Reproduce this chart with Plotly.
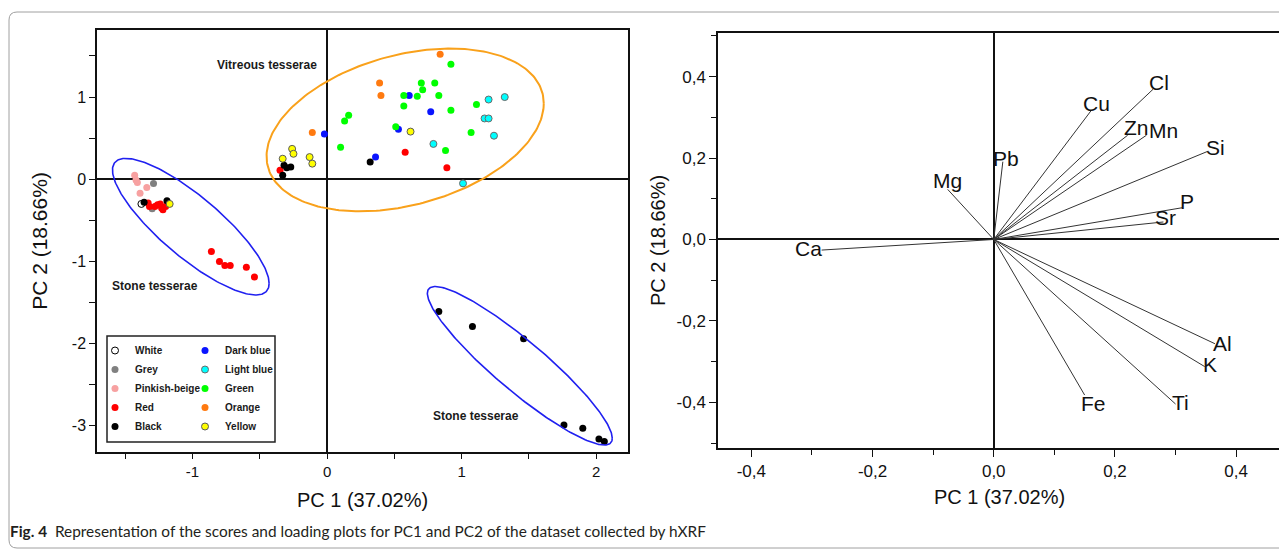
import numpy as np
import plotly.graph_objects as go

# page offset of the plot div (default body margin) and the visible area
OFF = 8
W, H = 1287 - OFF, 550 - OFF

# ---------------- Scores plot data (PC1, PC2) ----------------
white_pc1 = [-1.38]
white_pc2 = [-0.30]
grey_pc1 = [-1.29, -1.30]
grey_pc2 = [-0.05, -0.36]
pink_pc1 = [-1.43, -1.42, -1.41, -1.34, -1.39]
pink_pc2 = [0.05, -0.01, -0.04, -0.10, -0.17]
red_pc1 = [-1.33, -1.32, -1.28, -1.26, -1.24, -1.22, -1.20, -1.23,
           -0.86, -0.80, -0.76, -0.72, -0.60, -0.54,
           -0.35, 0.58, 0.89]
red_pc2 = [-0.29, -0.33, -0.33, -0.31, -0.30, -0.37, -0.33, -0.35,
           -0.88, -1.00, -1.05, -1.05, -1.07, -1.19,
           0.11, 0.33, 0.14]
black_pc1 = [-1.36, -1.19, -0.32, -0.27, -0.30, -0.33, 0.32,
             0.83, 1.08, 1.46, 1.76, 1.90, 2.02, 2.06]
black_pc2 = [-0.28, -0.26, 0.17, 0.15, 0.14, 0.05, 0.21,
             -1.61, -1.79, -1.94, -2.99, -3.03, -3.16, -3.19]
darkblue_pc1 = [0.61, 0.77, 0.53, -0.02, 0.36]
darkblue_pc2 = [1.02, 0.82, 0.61, 0.55, 0.27]
lightblue_pc1 = [1.20, 1.32, 1.17, 1.20, 1.24, 0.79, 1.01]
lightblue_pc2 = [0.97, 1.00, 0.74, 0.74, 0.53, 0.43, -0.05]
green_pc1 = [0.92, 0.70, 0.80, 0.71, 0.57, 0.67, 0.83, 0.57, 0.92, 1.11,
             1.07, 0.16, 0.13, 0.51, 0.10, 0.88]
green_pc2 = [1.40, 1.17, 1.17, 1.09, 1.02, 1.01, 1.02, 0.89, 0.84, 0.91,
             0.57, 0.78, 0.71, 0.64, 0.39, 0.35]
orange_pc1 = [0.84, 0.39, 0.40, -0.11]
orange_pc2 = [1.52, 1.17, 1.02, 0.57]
yellow_pc1 = [-0.26, -0.25, -0.13, -0.11, -0.33, 0.62, -1.17]
yellow_pc2 = [0.37, 0.31, 0.27, 0.19, 0.25, 0.58, -0.30]

score_names = ["White", "Grey", "Pinkish-beige", "Red", "Black",
               "Dark blue", "Light blue", "Green", "Orange", "Yellow"]
score_x = [white_pc1, grey_pc1, pink_pc1, red_pc1, black_pc1,
           darkblue_pc1, lightblue_pc1, green_pc1, orange_pc1, yellow_pc1]
score_y = [white_pc2, grey_pc2, pink_pc2, red_pc2, black_pc2,
           darkblue_pc2, lightblue_pc2, green_pc2, orange_pc2, yellow_pc2]

# group ellipses: centre, half-extent along PC1 / PC2, phase (deg)
ell_cx = [0.58, -1.013, 1.432]
ell_cy = [0.60, -0.577, -2.269]
ell_rx = [1.03, 0.582, 0.687]
ell_ry = [0.99, 0.831, 0.964]
ell_phase = [71, 146, 156]

group_labels = ["Vitreous tesserae", "Stone tesserae", "Stone tesserae"]
group_label_x = [-0.45, -1.28, 1.105]
group_label_y = [1.39, -1.30, -2.876]

# ---------------- Loadings plot data ----------------
elements = ["Cl", "Cu", "Zn", "Mn", "Si", "Pb", "Mg", "P", "Sr", "Ca",
            "Al", "K", "Ti", "Fe"]
load_pc1 = [0.263, 0.161, 0.221, 0.252, 0.354, 0.015, -0.076, 0.311,
            0.280, -0.284, 0.365, 0.348, 0.300, 0.150]
load_pc2 = [0.369, 0.317, 0.256, 0.256, 0.217, 0.191, 0.123, 0.078,
            0.043, -0.026, -0.256, -0.312, -0.404, -0.382]

left_xticks = [-1, 0, 1, 2]
left_yticks = [1, 0, -1, -2, -3]
right_ticks = [-0.4, -0.2, 0.0, 0.2, 0.4]

# ---------------- styles ----------------
marker_fill = {"White": "#ffffff", "Grey": "#808080", "Pinkish-beige": "#f7a1a1",
               "Red": "#ff0000", "Black": "#000000", "Dark blue": "#0a14ff",
               "Light blue": "#00ffff", "Green": "#00ff00", "Orange": "#ff7a10",
               "Yellow": "#ffff00"}
marker_edge = {"White": ("#000000", 1), "Light blue": ("#6a6a6a", 1),
               "Yellow": ("#5a5a5a", 1)}
ell_colors = ["#f9a11b", "#2020f0", "#2020f0"]
ell_widths = [2, 1.6, 1.6]
label_shift = {"Cl": (6, 7), "Cu": (5, 7), "Zn": (9, 8), "Mn": (17, 5),
               "Si": (7, 4), "Pb": (3, 3), "Mg": (0, 9), "P": (5, 6),
               "Sr": (2, 4), "Ca": (-13, 2), "Al": (8, 0), "K": (5, 2),
               "Ti": (5, 2), "Fe": (9, -8)}

FONT = "Liberation Sans, Arial, sans-serif"


def fx(px):
    return (px - OFF) / W


def fy(py):
    return 1 - (py - OFF) / H


fig = go.Figure()

# scores
for i, name in enumerate(score_names):
    edge = marker_edge.get(name, (marker_fill[name], 0))
    fig.add_trace(go.Scatter(
        x=score_x[i], y=score_y[i], mode="markers", name=f"<b>{name}</b>",
        legend="legend" if i < 5 else "legend2", legendgroup=name,
        marker=dict(size=7, color=marker_fill[name],
                    line=dict(color=edge[0], width=edge[1])),
        xaxis="x", yaxis="y"))

# ellipses
t = np.linspace(0, 2 * np.pi, 241)
for k in range(len(ell_cx)):
    ph = np.deg2rad(ell_phase[k])
    fig.add_trace(go.Scatter(
        x=ell_cx[k] + ell_rx[k] * np.cos(t),
        y=ell_cy[k] + ell_ry[k] * np.cos(t - ph),
        mode="lines", showlegend=False, hoverinfo="skip",
        line=dict(color=ell_colors[k], width=ell_widths[k]),
        xaxis="x", yaxis="y"))

# loadings vectors
vx, vy = [], []
for a, b in zip(load_pc1, load_pc2):
    vx += [0, a, None]
    vy += [0, b, None]
fig.add_trace(go.Scatter(x=vx, y=vy, mode="lines", showlegend=False,
                         line=dict(color="#333333", width=1),
                         xaxis="x2", yaxis="y2"))

annotations = []
for txt, gx, gy in zip(group_labels, group_label_x, group_label_y):
    annotations.append(dict(x=gx, y=gy, xref="x", yref="y", text=f"<b>{txt}</b>",
                            showarrow=False, font=dict(family=FONT, size=12, color="#1a1a1a")))
for el, a, b in zip(elements, load_pc1, load_pc2):
    sx, sy = label_shift[el]
    annotations.append(dict(x=a, y=b, xref="x2", yref="y2", text=el, showarrow=False,
                            xshift=sx, yshift=sy,
                            font=dict(family=FONT, size=21, color="#111111")))
annotations.append(dict(
    x=fx(8), y=fy(531), xref="paper", yref="paper", xanchor="left", yanchor="middle",
    text="<b>Fig. 4</b>  Representation of the scores and loading plots for PC1 and PC2 of the dataset collected by hXRF",
    showarrow=False, font=dict(family="Lato, sans-serif", size=15.4, color="#231f20")))

shapes = [
    # legend frame
    dict(type="rect", xref="paper", yref="paper", x0=fx(107), x1=fx(275),
         y0=fy(442), y1=fy(336), line=dict(color="#222222", width=1.5)),
    # outer page frame
    dict(type="path", xref="paper", yref="paper",
         path=(f"M {fx(1300)} {fy(12)} L {fx(17)} {fy(12)} "
               f"Q {fx(9)} {fy(12)} {fx(9)} {fy(20)} L {fx(9)} {fy(540)} "
               f"Q {fx(9)} {fy(548)} {fx(17)} {fy(548)} L {fx(1300)} {fy(548)}"),
         line=dict(color="#a0a0a0", width=1)),
]

axis_common = dict(showline=True, linecolor="#111111", linewidth=1.5, mirror=True,
                   showgrid=False, zeroline=True, zerolinecolor="#111111",
                   zerolinewidth=1.5, ticks="outside", tickcolor="#111111",
                   tickwidth=1.2, automargin=False, tickmode="array")

fig.update_layout(
    width=W, height=H, margin=dict(l=0, r=0, t=0, b=0),
    paper_bgcolor="white", plot_bgcolor="white",
    font=dict(family=FONT, color="#111111"),
    showlegend=True,
    xaxis=dict(axis_common, domain=[fx(97), fx(628)], range=[-1.71, 2.236],
               tickvals=left_xticks, ticktext=[str(v) for v in left_xticks],
               ticklen=5, tickfont=dict(size=15),
               minor=dict(tickvals=[-1.5, -0.5, 0.5, 1.5], ticklen=5, ticks="outside",
                          tickcolor="#111111"),
               title=dict(text="PC 1 (37.02%)", font=dict(size=20), standoff=14),
               anchor="y"),
    yaxis=dict(axis_common, domain=[fy(452), fy(30)], range=[-3.318, 1.816],
               tickvals=left_yticks, ticktext=[str(v) for v in left_yticks],
               ticklen=6, tickfont=dict(size=16),
               minor=dict(tickvals=[1.5, 0.5, -0.5, -1.5, -2.5], ticklen=6, ticks="outside",
                          tickcolor="#111111"),
               title=dict(text="PC 2 (18.66%)", font=dict(size=21), standoff=18),
               anchor="x"),
    xaxis2=dict(axis_common, domain=[fx(718), fx(1281)], range=[-0.455, 0.474],
                tickvals=right_ticks, ticktext=[f"{v:.1f}".replace(".", ",") for v in right_ticks],
                ticklen=7, tickfont=dict(size=17),
                minor=dict(tickvals=[-0.3, -0.1, 0.1, 0.3], ticklen=5, ticks="outside",
                           tickcolor="#111111"),
                title=dict(text="PC 1 (37.02%)", font=dict(size=20), standoff=10),
                anchor="y2"),
    yaxis2=dict(axis_common, domain=[fy(448), fy(33)], range=[-0.512, 0.507],
                tickvals=right_ticks, ticktext=[f"{v:.1f}".replace(".", ",") for v in right_ticks],
                ticklen=7, tickfont=dict(size=17),
                minor=dict(tickvals=[-0.5, -0.3, -0.1, 0.1, 0.3, 0.5], ticklen=5, ticks="outside",
                           tickcolor="#111111"),
                title=dict(text="PC 2 (18.66%)", font=dict(size=20), standoff=6),
                anchor="x2"),
    legend=dict(x=fx(95), y=fy(336), xanchor="left", yanchor="top",
                bgcolor="rgba(0,0,0,0)", borderwidth=0, tracegroupgap=1.5,
                font=dict(family=FONT, size=10, color="#1a1a1a"), traceorder="normal",
                itemclick=False),
    legend2=dict(x=fx(185), y=fy(336), xanchor="left", yanchor="top",
                 bgcolor="rgba(0,0,0,0)", borderwidth=0, tracegroupgap=1.5,
                 font=dict(family=FONT, size=10, color="#1a1a1a"), traceorder="normal",
                 itemclick=False),
    annotations=annotations,
    shapes=shapes,
)

fig.write_html("out.html")
